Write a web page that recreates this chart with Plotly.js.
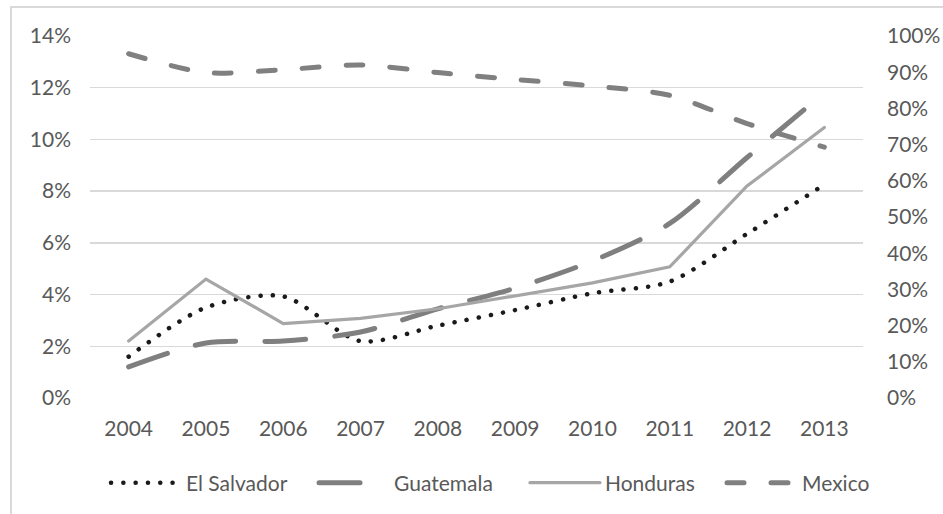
<!DOCTYPE html>
<html>
<head>
<meta charset="utf-8">
<script src="https://cdn.plot.ly/plotly-3.0.1.min.js"></script>
<style>
  html, body { margin: 0; padding: 0; background: #ffffff; }
  #wrap { position: relative; width: 943px; height: 514px; overflow: hidden; }
  #frame { position: absolute; left: 10px; top: 6px; width: 960px; height: 540px;
           border-left: 2px solid #d9d9d9; border-top: 2px solid #d9d9d9; }
  #chart { position: absolute; left: 0; top: 0; width: 943px; height: 514px; }
  #chart .scatterlayer .js-line, #chart .legendlines .js-line { stroke-linecap: round; }
</style>
</head>
<body>
<div id="wrap">
  <div id="frame"></div>
  <div id="chart"></div>
</div>
<script>
// Categories
const years = ['2004', '2005', '2006', '2007', '2008', '2009', '2010', '2011', '2012', '2013'];

// Series (percent) - left axis
const elSalvador = [1.6, 3.5, 3.93, 2.2, 2.8, 3.4, 4.05, 4.5, 6.35, 8.25];
const guatemala  = [1.2, 2.13, 2.2, 2.55, 3.45, 4.25, 5.3, 6.75, 9.3, 11.8];
const honduras   = [2.2, 4.6, 2.88, 3.08, 3.45, 3.95, 4.45, 5.07, 8.2, 10.46];
// Series (percent) - right axis
const mexico     = [95.1, 89.9, 90.7, 92.0, 89.9, 88.0, 86.2, 83.6, 75.8, 69.3];

// Names
const seriesNames = ['El Salvador', 'Guatemala', 'Honduras', 'Mexico'];

const FONT = 'Lato, "Open Sans", sans-serif';
const TXT = '#595959';

const traces = [
  { x: years, y: elSalvador, name: seriesNames[0], type: 'scatter', mode: 'lines', legend: 'legend',
    line: { color: '#1a1a1a', width: 4.5, dash: '0.1px,12.2px', shape: 'spline', smoothing: 0.8 } },
  { x: years, y: guatemala, name: seriesNames[1], type: 'scatter', mode: 'lines', legend: 'legend2',
    line: { color: '#7f7f7f', width: 5, dash: '41px,29px', shape: 'spline', smoothing: 0.8 } },
  { x: years, y: honduras, name: seriesNames[2], type: 'scatter', mode: 'lines', legend: 'legend3',
    line: { color: '#a6a6a6', width: 3.2 } },
  { x: years, y: mexico, name: seriesNames[3], type: 'scatter', mode: 'lines', yaxis: 'y2', legend: 'legend4',
    line: { color: '#808080', width: 5, dash: '17px,27px', shape: 'spline', smoothing: 0.8 } }
];

function legendAt(px) {
  return {
    orientation: 'h', x: px, xanchor: 'left', y: -0.235, yanchor: 'middle',
    font: { family: FONT, size: 21, color: TXT }, itemwidth: 70,
    bgcolor: 'rgba(0,0,0,0)', borderwidth: 0
  };
}

const layout = {
  width: 943, height: 514,
  margin: { l: 90, r: 80, t: 36, b: 116, autoexpand: false },
  paper_bgcolor: 'rgba(0,0,0,0)',
  plot_bgcolor: 'rgba(0,0,0,0)',
  font: { family: FONT, size: 21, color: TXT },
  showlegend: true,
  legend: legendAt(0.0207),
  legend2: legendAt(0.2898),
  legend3: legendAt(0.5627),
  legend4: legendAt(0.8176),
  xaxis: {
    type: 'category', range: [-0.5, 9.5], showgrid: false, zeroline: false,
    showline: false, ticks: '', ticklabelstandoff: 16, fixedrange: true
  },
  yaxis: {
    range: [0, 14], dtick: 2, tick0: 0, ticksuffix: '%', showgrid: true,
    gridcolor: '#d9d9d9', gridwidth: 1.5, zeroline: false, showline: false,
    ticks: '', ticklabelstandoff: 18, fixedrange: true
  },
  yaxis2: {
    overlaying: 'y', side: 'right', range: [0, 100], dtick: 10, tick0: 0,
    ticksuffix: '%', showgrid: false, zeroline: false, showline: false,
    ticks: '', ticklabelstandoff: 23, fixedrange: true
  }
};

Plotly.newPlot('chart', traces, layout, { staticPlot: true, displayModeBar: false });
</script>
</body>
</html>
